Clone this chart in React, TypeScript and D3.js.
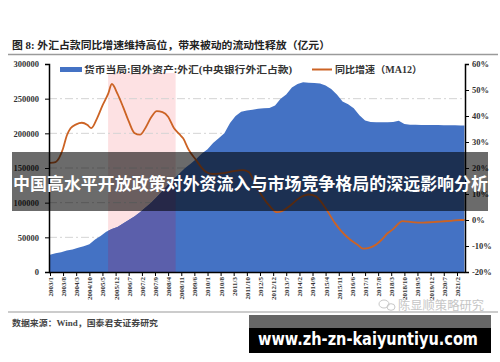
import React, { useEffect, useRef } from "react";
import * as d3 from "d3";

// 货币当局:国外资产:外汇 (亿元)
const reserveDates = [
  "2003/1", "2003/4", "2003/7", "2003/10", "2004/1", "2004/4", "2004/7", "2004/10",
  "2005/1", "2005/4", "2005/7", "2005/10", "2006/1", "2006/4", "2006/7", "2006/10",
  "2007/1", "2007/4", "2007/7", "2007/10", "2008/1", "2008/4", "2008/7", "2008/10",
  "2009/1", "2009/4", "2009/7", "2009/10", "2010/1", "2010/4", "2010/7", "2010/10",
  "2011/1", "2011/4", "2011/7", "2011/10", "2012/1", "2012/4", "2012/7", "2012/10",
  "2013/1", "2013/4", "2013/7", "2013/10", "2014/1", "2014/4", "2014/7", "2014/10",
  "2015/1", "2015/4", "2015/7", "2015/10", "2016/1", "2016/4", "2016/7", "2016/10",
  "2017/1", "2017/4", "2017/7", "2017/10", "2018/1", "2018/4", "2018/7", "2018/10",
  "2019/1", "2019/4", "2019/7", "2019/10", "2020/1", "2020/4", "2020/7", "2020/10",
  "2021/1", "2021/4", "2021/6",
];
const reserveValues = [
  25000, 27000, 28500, 31000, 32500, 35000, 37000, 40000,
  47000, 52000, 58000, 62000, 65000, 70000, 75000, 80000,
  86000, 93000, 100000, 108000, 117000, 126000, 134000, 142000,
  150000, 156000, 163000, 171000, 177000, 186000, 193000, 200000,
  215000, 225000, 231000, 233000, 234000, 235500, 236000, 236500,
  240000, 250000, 256000, 266000, 271000, 273500, 273000, 272500,
  272000, 269000, 264000, 256000, 246000, 242000, 236000, 226000,
  218500, 216500, 216000, 216000, 216000, 216500, 218000, 213500,
  212500, 212500, 212000, 212000, 212000, 212000, 211800, 211600,
  211500, 211300, 211300,
];

// 同比增速 (MA12), %
const growthDates = [
  "2003/1", "2003/4", "2003/6", "2003/8", "2003/10", "2003/12", "2004/3", "2004/6",
  "2004/9", "2004/11", "2005/2", "2005/5", "2005/8", "2005/10", "2006/1", "2006/4",
  "2006/7", "2006/10", "2007/1", "2007/4", "2007/7", "2007/10", "2008/1", "2008/4",
  "2008/7", "2008/10", "2008/12", "2009/3", "2009/7", "2009/10", "2009/12", "2010/4",
  "2010/8", "2010/11", "2011/3", "2011/8", "2011/11", "2012/3", "2012/10", "2013/2",
  "2013/5", "2013/9", "2014/2", "2014/7", "2014/11", "2015/4", "2015/9", "2015/12",
  "2016/5", "2016/9", "2016/12", "2017/4", "2017/7", "2017/10", "2018/1", "2018/4",
  "2018/9", "2019/2", "2019/8", "2020/1", "2020/5", "2020/11", "2021/4", "2021/6",
];
const growthValues = [
  22, 22.3, 24, 27.5, 32.5, 35.3, 36.8, 37.4,
  36.5, 35.3, 39, 44, 48.5, 52.3, 48.5, 43.5,
  38, 33.5, 32.8, 35.5, 39.5, 41.9, 41.5, 39.7,
  35.5, 33, 31.4, 27, 23, 20, 18.6, 17.7,
  17.9, 18.2, 18.8, 19.2, 18.5, 13, 5.5, 3,
  3.5, 5.5, 8.5, 9.8, 9, 4.5, -1.2, -4,
  -7.5, -9.5, -11, -10.5, -9.4, -7.5, -5.1, -3.5,
  -0.4, -0.8, -1, -0.8, -0.6, -0.3, 0, 0,
];

const xTickLabels = [
  "2003/1", "2003/8", "2004/3", "2004/10", "2005/5", "2005/12", "2006/7", "2007/2",
  "2007/9", "2008/4", "2008/11", "2009/6", "2010/1", "2010/8", "2011/3", "2011/10",
  "2012/5", "2012/12", "2013/7", "2014/2", "2014/9", "2015/4", "2015/11", "2016/6",
  "2017/1", "2017/8", "2018/3", "2018/10", "2019/5", "2019/12", "2020/7", "2021/2",
];
const leftTicks = [0, 50000, 100000, 150000, 200000, 250000, 300000];
const rightTicks = [-20, -10, 0, 10, 20, 30, 40, 50, 60];
const shadeRange = ["2005/8", "2008/8"];

const title = "图 8: 外汇占款同比增速维持高位，带来被动的流动性释放（亿元）";
const areaLabel = "货币当局:国外资产:外汇(中央银行外汇占款)";
const lineLabel = "同比增速（MA12）";
const sourceText = "数据来源：Wind，国泰君安证券研究";
const bannerText = "中国高水平开放政策对外资流入与市场竞争格局的深远影响分析";
const siteText = "www.zh-zn-kaiyuntiyu.com";
const markText = "陈显顺策略研究";

const parse = d3.timeParse("%Y/%m");
const serif = "'Liberation Serif', 'Noto Sans CJK SC', serif";
const cjk = "'Noto Sans CJK SC', sans-serif";

const App = () => {
  const svgRef = useRef<SVGSVGElement>(null);

  useEffect(() => {
    const svg = d3.select(svgRef.current);
    svg.selectAll("*").remove();

    const left = 49;
    const right = 465;
    const top = 64;
    const bottom = 272;

    const x = d3
      .scaleTime()
      .domain([parse("2003/1")!, parse("2021/6")!])
      .range([50, 464.4]);
    const yL = d3.scaleLinear().domain([0, 300000]).range([bottom, top]);
    const yR = d3.scaleLinear().domain([-20, 60]).range([bottom, top]);

    const reserve = reserveDates.map((d, i) => ({ date: parse(d)!, value: reserveValues[i] }));
    const growth = growthDates.map((d, i) => ({ date: parse(d)!, value: growthValues[i] }));

    // title
    svg
      .append("text")
      .attr("x", 12)
      .attr("y", 49)
      .attr("textLength", 318)
      .attr("lengthAdjust", "spacingAndGlyphs")
      .style("font-family", serif)
      .style("font-weight", "bold")
      .style("font-size", "10.5px")
      .attr("fill", "#222")
      .text(title);
    svg.append("line").attr("x1", 8).attr("x2", 498).attr("y1", 54.5).attr("y2", 54.5)
      .attr("stroke", "#9a9a9a").attr("stroke-width", 1.5);

    // shaded period
    const bx0 = x(parse(shadeRange[0])!);
    const bx1 = x(parse(shadeRange[1])!);
    svg.append("rect").attr("x", bx0).attr("y", 73).attr("width", bx1 - bx0)
      .attr("height", bottom - 73).attr("fill", "#fde1e3");

    // grid
    svg
      .append("g")
      .selectAll("line")
      .data(leftTicks.filter((t) => t > 0 && t < 300000))
      .join("line")
      .attr("x1", left)
      .attr("x2", right)
      .attr("y1", (d) => yL(d))
      .attr("y2", (d) => yL(d))
      .attr("stroke", "#d4d4d4")
      .attr("stroke-width", 1)
      .attr("stroke-dasharray", "8,3,2,3");

    // area
    const area = d3
      .area<{ date: Date; value: number }>()
      .x((d) => x(d.date))
      .y0(yL(0))
      .y1((d) => yL(d.value));

    const defs = svg.append("defs");
    defs.append("clipPath").attr("id", "areaClip").append("path").datum(reserve).attr("d", area);

    svg.append("path").datum(reserve).attr("fill", "#4472c4").attr("d", area);
    svg.append("rect").attr("x", bx0).attr("y", 73).attr("width", bx1 - bx0)
      .attr("height", bottom - 73).attr("fill", "#5b5fab").attr("clip-path", "url(#areaClip)");

    // growth line
    const line = d3
      .line<{ date: Date; value: number }>()
      .x((d) => x(d.date))
      .y((d) => yR(d.value))
      .curve(d3.curveMonotoneX);
    svg.append("path").datum(growth).attr("fill", "none").attr("stroke", "#cc6324")
      .attr("stroke-width", 1.8).attr("d", line);

    // left axis
    const yAxisL = svg
      .append("g")
      .attr("transform", `translate(${left},0)`)
      .call(d3.axisLeft(yL).tickValues(leftTicks).tickSize(4).tickPadding(6).tickFormat((d) => `${d}`));
    yAxisL.select(".domain").attr("stroke", "#000").attr("stroke-width", 1.5);
    yAxisL.selectAll("text").style("font-family", serif).style("font-weight", "bold")
      .style("font-size", "8.5px").attr("fill", "#333");

    // right axis
    const yAxisR = svg
      .append("g")
      .attr("transform", `translate(${right},0)`)
      .call(d3.axisRight(yR).tickValues(rightTicks).tickSize(4).tickPadding(3).tickFormat((d) => `${d}%`));
    yAxisR.select(".domain").attr("stroke", "#000").attr("stroke-width", 1.5);
    yAxisR.selectAll("text").style("font-family", serif).style("font-weight", "bold")
      .style("font-size", "8.5px").attr("fill", "#333");

    // x axis
    const xAxis = svg
      .append("g")
      .attr("transform", `translate(0,${bottom})`)
      .call(
        d3.axisBottom(x)
          .tickValues(xTickLabels.map((d) => parse(d)!))
          .tickSize(4)
          .tickSizeOuter(0)
          .tickFormat(d3.timeFormat("%Y/%-m") as any)
      );
    xAxis.select(".domain").attr("d", `M${left},0.5H${right}`).attr("stroke", "#000").attr("stroke-width", 1.5);
    xAxis
      .selectAll("text")
      .attr("transform", "rotate(-90)")
      .attr("text-anchor", "end")
      .attr("x", -5)
      .attr("y", 0)
      .attr("dy", "0.35em")
      .style("font-family", serif)
      .style("font-weight", "bold")
      .style("font-size", "7px")
      .attr("fill", "#333");

    // legend
    svg.append("rect").attr("x", 60).attr("y", 67).attr("width", 22).attr("height", 5).attr("fill", "#4472c4");
    svg.append("text").attr("x", 84).attr("y", 73).attr("textLength", 208)
      .attr("lengthAdjust", "spacingAndGlyphs").style("font-family", serif).style("font-weight", "bold")
      .style("font-size", "9.5px").attr("fill", "#333").text(areaLabel);
    svg.append("line").attr("x1", 312).attr("x2", 332).attr("y1", 69.5).attr("y2", 69.5)
      .attr("stroke", "#cc6324").attr("stroke-width", 2);
    svg.append("text").attr("x", 335).attr("y", 73).attr("textLength", 87)
      .attr("lengthAdjust", "spacingAndGlyphs").style("font-family", serif).style("font-weight", "bold")
      .style("font-size", "9.5px").attr("fill", "#333").text(lineLabel);

    // bottom source
    svg.append("line").attr("x1", 8).attr("x2", 498).attr("y1", 312).attr("y2", 312)
      .attr("stroke", "#9a9a9a").attr("stroke-width", 1.2);
    svg.append("text").attr("x", 12).attr("y", 326).attr("textLength", 146)
      .attr("lengthAdjust", "spacingAndGlyphs").style("font-family", serif).style("font-weight", "bold")
      .style("font-size", "8.5px").attr("fill", "#444").text(sourceText);

    // faint watermark
    const mark = svg.append("g").attr("fill", "none").attr("stroke", "#c8c8c8").attr("stroke-width", 1);
    mark.append("ellipse").attr("cx", 384).attr("cy", 304).attr("rx", 5).attr("ry", 4);
    mark.append("ellipse").attr("cx", 391).attr("cy", 307).attr("rx", 4).attr("ry", 3.3);
    svg.append("text").attr("x", 398).attr("y", 310).attr("textLength", 86)
      .attr("lengthAdjust", "spacingAndGlyphs").style("font-family", cjk)
      .style("font-size", "12px").attr("fill", "#c6c6c6").text(markText);

    // banner overlay
    svg.append("rect").attr("x", 12).attr("y", 152).attr("width", 476).attr("height", 59)
      .attr("fill", "rgba(0,0,0,0.58)");
    svg.append("text").attr("x", 13).attr("y", 190).attr("textLength", 475)
      .attr("lengthAdjust", "spacingAndGlyphs").style("font-family", cjk).style("font-weight", "bold")
      .style("font-size", "17px").attr("fill", "#fff").text(bannerText);

    // site box
    svg.append("rect").attr("x", 249).attr("y", 315).attr("width", 242).attr("height", 13).attr("fill", "#666");
    svg.append("rect").attr("x", 249).attr("y", 328).attr("width", 242).attr("height", 25).attr("fill", "#000");
    svg.append("text").attr("x", 258).attr("y", 345).attr("textLength", 220)
      .attr("lengthAdjust", "spacingAndGlyphs").style("font-family", "'DejaVu Sans', sans-serif")
      .style("font-weight", "bold").style("font-size", "18px").attr("fill", "#fff").text(siteText);
  }, []);

  return (
    <div style={{ position: "fixed", left: 0, top: 0, background: "#fff" }}>
      <svg ref={svgRef} width={500} height={362} style={{ display: "block" }}></svg>
    </div>
  );
};

export default App;
